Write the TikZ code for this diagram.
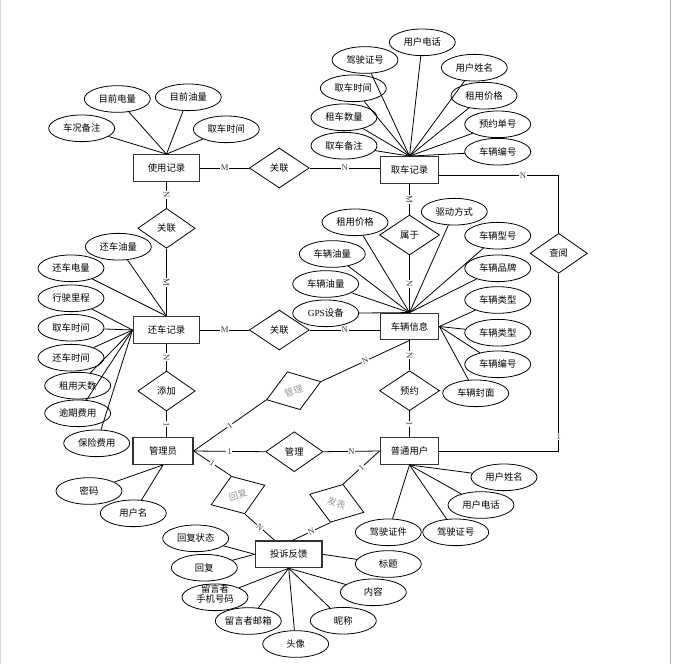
\documentclass[tikz,border=0pt]{standalone}
\usepackage{fontspec}
\setmainfont{Liberation Serif}
\newfontfamily\cjk{Noto Sans CJK SC}
\usepackage{tikz}
\usetikzlibrary{shapes.geometric, calc}

\begin{document}
\begin{tikzpicture}[
    x=0.75pt, y=-0.75pt,
    entity/.style={
        rectangle, draw=black!80, line width=0.9pt,
        minimum width=50pt, minimum height=20pt, inner sep=1pt,
        font=\cjk\fontsize{7}{8}\selectfont
    },
    attr/.style={
        ellipse, draw, line width=0.6pt,
        minimum width=49.5pt, minimum height=20pt, inner sep=0pt,
        font=\cjk\fontsize{7}{8}\selectfont
    },
    rel/.style={
        diamond, draw, line width=0.6pt, aspect=1.4,
        minimum width=43pt, minimum height=30pt, inner sep=0pt,
        font=\cjk\fontsize{7}{8}\selectfont
    },
    relgray/.style={rel, text=gray!80},
    link/.style={line width=0.6pt},
    lab/.style={font=\rmfamily\fontsize{6.5}{7}\selectfont, fill=white,
        inner sep=0.6pt, text=gray!50!black}
]
\useasboundingbox (0,0) rectangle (673,664);
% page edges
\draw[gray!30, line width=0.5pt] (0.5,0) -- (0.5,664);
\draw[gray!60, line width=0.6pt] (670.5,0) -- (670.5,664);

% Entities
\node[entity] (userec) at (166.5,168) {使用记录};
\node[entity, minimum width=44pt] (pickrec) at (409.5,170) {取车记录};
\node[entity] (retrec) at (166.5,330) {还车记录};
\node[entity, minimum width=44pt] (carinfo) at (409.5,326.5) {车辆信息};
\node[entity, minimum width=45pt] (admin) at (163,451) {管理员};
\node[entity, minimum width=44pt] (user) at (409.5,451) {普通用户};
\node[entity] (fb) at (288.7,554.3) {投诉反馈};

% Relations
\node[rel, minimum width=45pt] (relA) at (279.3,168) {关联};
\node[rel] (relB) at (166.5,228.3) {关联};
\node[rel, minimum width=45pt] (relC) at (279.3,330) {关联};
\node[rel, minimum width=45pt] (belong) at (409.5,235) {属于};
\node[rel] (check) at (558.7,253.3) {查阅};
\node[rel, minimum width=45pt] (book) at (409.5,390.7) {预约};
\node[rel] (add) at (166.5,391) {添加};
\node[rel] (mnguser) at (294.3,451.7) {管理};
\node[relgray, rotate=18.5] (mngcar) at (293.7,390.7) {管理};
\node[relgray, rotate=20] (reply) at (238,495) {回复};
\node[relgray, rotate=-18.5] (post) at (336.7,503.3) {发表};

% Relation connectors
\draw[link] (userec) -- node[lab]{M} (relA);
\draw[link] (relA.east) -- node[lab]{N} (relA.east -| pickrec.west);
\draw[link] (userec) -- node[lab, sloped]{N} (relB);
\draw[link] (relB) -- node[lab, sloped]{M} (retrec);
\draw[link] (retrec) -- node[lab]{M} (relC);
\draw[link] (relC.east) -- node[lab]{N} (relC.east -| carinfo.west);
\draw[link] (pickrec) -- node[lab, sloped]{M} (belong);
\draw[link] (belong) -- node[lab, sloped]{N} (carinfo);
\draw[link] (carinfo) -- node[lab, sloped]{N} (book);
\draw[link] (book) -- node[lab, sloped]{1} (user);
\draw[link] (retrec) -- node[lab, sloped]{N} (add);
\draw[link] (add.south) -- node[lab, sloped]{1} (add.south |- admin.north);
\draw[link] (admin.east) -- node[lab, sloped]{1} (mngcar.west);
\draw[link] (mngcar.east) -- node[lab, sloped]{N} (carinfo.south);
\draw[link] (admin.east) -- node[lab]{1} (mnguser.west);
\draw[link] (mnguser.east) -- node[lab]{N} (user.west);
\draw[link] (admin.east) -- node[lab, sloped]{1} (reply.north);
\draw[link] (reply.south) -- node[lab, sloped]{N} (fb.135);
\draw[link] (user.west) -- node[lab, sloped]{1} (post.north);
\draw[link] (post.south) -- node[lab, sloped]{N} (fb.75);
\draw[link] ([yshift=-4pt]pickrec.east) -| node[lab, pos=0.35]{N} (check.north);
\draw[link] (check.south) |- node[lab, pos=0.46]{1} (user.east);

% Attributes of 使用记录
\node[attr] (u1) at (81.7,128.3) {车况备注};
\node[attr] (u2) at (117.3,99) {目前电量};
\node[attr] (u3) at (188.3,97.3) {目前油量};
\node[attr] (u4) at (226.3,129.3) {取车时间};
\draw[link] (u1) -- (userec.north);
\draw[link] (u2) -- (userec.north);
\draw[link] (u3) -- (userec.north);
\draw[link] (u4) -- (userec.north);

% Attributes of 取车记录
\node[attr] (p1) at (422.3,42.3) {用户电话};
\node[attr] (p2) at (365,60) {驾驶证号};
\node[attr] (p3) at (474.3,67.7) {用户姓名};
\node[attr] (p4) at (353.3,88.3) {取车时间};
\node[attr] (p5) at (484,95.7) {租用价格};
\node[attr] (p6) at (344,117.3) {租车数量};
\node[attr] (p7) at (497.7,124.3) {预约单号};
\node[attr] (p8) at (344,145.7) {取车备注};
\node[attr] (p9) at (497.7,151.7) {车辆编号};
\draw[link] (p1) -- (pickrec.north);
\draw[link] (p2) -- (pickrec.north);
\draw[link] (p3) -- (pickrec.north);
\draw[link] (p4) -- (pickrec.north);
\draw[link] (p5) -- (pickrec.north);
\draw[link] (p6) -- (pickrec.north);
\draw[link] (p7) -- (pickrec.north);
\draw[link] (p8) -- (pickrec.north);
\draw[link] (p9) -- (pickrec.north);

% Attributes of 还车记录
\node[attr] (r1) at (118.3,246.7) {还车油量};
\node[attr] (r2) at (71,268.3) {还车电量};
\node[attr] (r3) at (71,298.3) {行驶里程};
\node[attr] (r4) at (71,327.7) {取车时间};
\node[attr] (r5) at (71,357.7) {还车时间};
\node[attr] (r6) at (77.7,385.7) {租用天数};
\node[attr] (r7) at (77.7,413.3) {逾期费用};
\node[attr] (r8) at (96.7,443.3) {保险费用};
\draw[link] (r1) -- (retrec.north);
\draw[link] (r2) -- (retrec.north);
\draw[link] (r3) -- (retrec.west);
\draw[link] (r4) -- (retrec.west);
\draw[link] (r5) -- (retrec.west);
\draw[link] (r6) -- (retrec.west);
\draw[link] (r7) -- (retrec.west);
\draw[link] (r8) -- (retrec.west);

% Attributes of 车辆信息
\node[attr] (c1) at (454.3,211.7) {驱动方式};
\node[attr] (c2) at (355,222.3) {租用价格};
\node[attr] (c3) at (497.7,235.7) {车辆型号};
\node[attr] (c4) at (332.3,254) {车辆油量};
\node[attr] (c5) at (497.7,268.3) {车辆品牌};
\node[attr] (c6) at (325.7,284) {车辆油量};
\node[attr] (c7) at (325.7,313.3) {{\rmfamily GPS}设备};
\node[attr] (c8) at (497.7,300) {车辆类型};
\node[attr] (c9) at (497.7,332.7) {车辆类型};
\node[attr] (c10) at (497.7,364.3) {车辆编号};
\node[attr] (c11) at (475.7,393.3) {车辆封面};
\draw[link] (c1) -- (carinfo.north);
\draw[link] (c2) -- (carinfo.north);
\draw[link] (c3) -- (carinfo.north);
\draw[link] (c4) -- (carinfo.north);
\draw[link] (c5) -- (carinfo.north);
\draw[link] (c6) -- (carinfo.north);
\draw[link] (c7) -- (carinfo.north);
\draw[link] (c8) -- (carinfo.east);
\draw[link] (c9) -- (carinfo.east);
\draw[link] (c10) -- (carinfo.east);
\draw[link] (c11) -- (carinfo.east);

% Attributes of 管理员 and 普通用户
\node[attr] (m1) at (89,491) {密码};
\node[attr] (m2) at (133.3,513.3) {用户名};
\draw[link] (m1) -- (admin.south);
\draw[link] (m2) -- (admin.south);
\node[attr] (g1) at (504,477.3) {用户姓名};
\node[attr] (g2) at (481,505) {用户电话};
\node[attr] (g3) at (388.3,532.3) {驾驶证件};
\node[attr] (g4) at (455.7,532.3) {驾驶证号};
\draw[link] (g1) -- (user.south);
\draw[link] (g2) -- (user.south);
\draw[link] (g3) -- (user.south);
\draw[link] (g4) -- (user.south);

% Attributes of 投诉反馈
\node[attr] (f1) at (195.7,538.3) {回复状态};
\node[attr] (f2) at (204.3,567.7) {回复};
\node[attr] (f3) at (215,597.3) {\smash{\begin{tabular}[c]{@{}c@{}}留言者\\[-1pt]手机号码\end{tabular}}};
\node[attr] (f4) at (248.3,621) {留言者邮箱};
\node[attr] (f5) at (295.7,644) {头像};
\node[attr] (f6) at (343.3,620.7) {昵称};
\node[attr] (f7) at (373.3,592.3) {内容};
\node[attr] (f8) at (388.3,564) {标题};
\draw[link] (f1) -- (fb.west);
\draw[link] (f2) -- (fb.west);
\draw[link] (f3) -- (fb.south);
\draw[link] (f4) -- (fb.south);
\draw[link] (f5) -- (fb.south);
\draw[link] (f6) -- (fb.south);
\draw[link] (f7) -- (fb.south);
\draw[link] (f8) -- (fb.east);

\end{tikzpicture}
\end{document}
